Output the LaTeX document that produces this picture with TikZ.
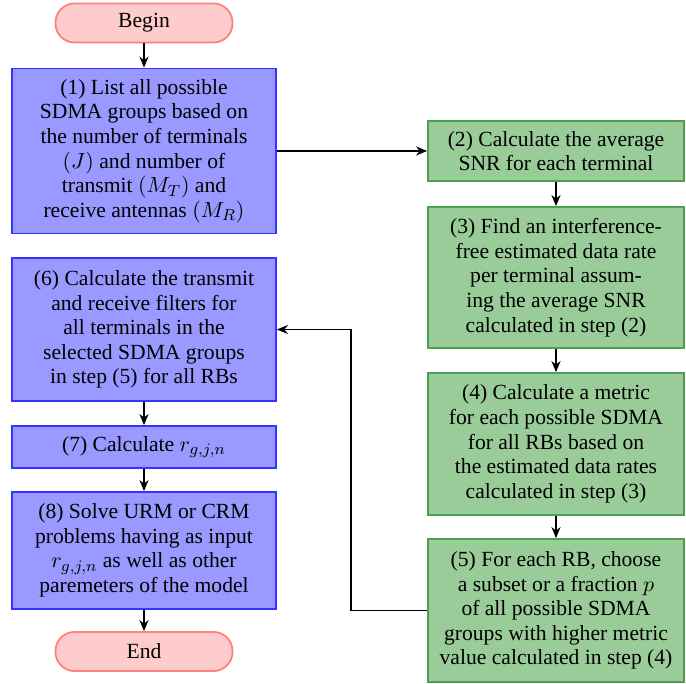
\documentclass[tikz,border=0pt]{standalone}
\usepackage{fontspec}
\setmainfont{Liberation Serif}
\usetikzlibrary{arrows.meta}
\definecolor{bfill}{RGB}{153,153,255}
\definecolor{bdraw}{RGB}{51,51,255}
\definecolor{gfill}{RGB}{153,204,153}
\definecolor{gdraw}{RGB}{77,160,77}
\definecolor{pfill}{RGB}{255,204,204}
\definecolor{pdraw}{RGB}{255,128,128}
\tikzset{
  every node/.style={font=\fontsize{10.8}{12.3}\selectfont},
  bluebox/.style={draw=bdraw, fill=bfill, line width=0.9pt, align=center, inner sep=1pt, minimum width=132pt},
  greenbox/.style={draw=gdraw, fill=gfill, line width=0.9pt, align=center, inner sep=1pt, minimum width=128pt},
  termbox/.style={draw=pdraw, fill=pfill, line width=0.9pt, rounded corners=9.5pt, minimum width=88.5pt, minimum height=19.5pt, inner sep=1pt},
  arr/.style={-{Stealth[length=5.5pt,width=4.5pt]}, line width=0.95pt}
}
\begin{document}
\begin{tikzpicture}[x=0.5pt, y=-0.5pt]
\useasboundingbox (0,0) rectangle (686,684);
\node[termbox] (begin) at (144,23) {Begin};
\node[bluebox, minimum height=82.5pt] (n1) at (144,151) {(1) List all possible\\SDMA groups based on\\the number of terminals\\$(J)$ and number of\\transmit $(M_T)$ and\\receive antennas $(M_R)$};
\node[greenbox, minimum height=30pt] (n2) at (556,151) {(2) Calculate the average\\SNR for each terminal};
\node[greenbox, minimum height=70.5pt] (n3) at (556,277.5) {(3) Find an interference-\\free estimated data rate\\per terminal assum-\\ing the average SNR\\calculated in step (2)};
\node[greenbox, minimum height=71pt] (n4) at (556,444) {(4) Calculate a metric\\for each possible SDMA\\for all RBs based on\\the estimated data rates\\calculated in step (3)};
\node[greenbox, minimum height=71.5pt] (n5) at (556,610.5) {(5) For each RB, choose\\a subset or a fraction $p$\\of all possible SDMA\\groups with higher metric\\value calculated in step (4)};
\node[bluebox, minimum height=71.5pt] (n6) at (144,329.5) {(6) Calculate the transmit\\and receive filters for\\all terminals in the\\selected SDMA groups\\in step (5) for all RBs};
\node[bluebox, minimum height=21pt] (n7) at (144,447) {(7) Calculate $r_{g,j,n}$};
\node[bluebox, minimum height=58.5pt] (n8) at (144,550.5) {(8) Solve URM or CRM\\problems having as input\\$r_{g,j,n}$ as well as other\\paremeters of the model};
\node[termbox] (end) at (144,651.5) {End};
\draw[arr] (begin) -- (n1);
\draw[arr] (n1.east) -- (n2.west);
\draw[arr] (n2) -- (n3);
\draw[arr] (n3) -- (n4);
\draw[arr] (n4) -- (n5);
\draw[arr] (n5.west) -- ++(-76,0) |- (n6.east);
\draw[arr] (n6) -- (n7);
\draw[arr] (n7) -- (n8);
\draw[arr] (n8) -- (end);
\end{tikzpicture}
\end{document}
